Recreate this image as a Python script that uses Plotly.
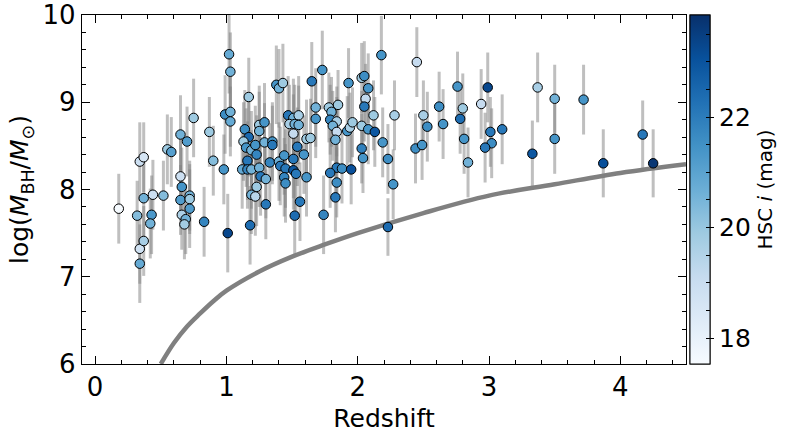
import plotly.graph_objects as go
import plotly.colors as pc

# redshift, log black hole mass, HSC i magnitude, mass error (dex)
redshift = [
    0.18, 0.32, 0.34, 0.34, 0.37, 0.37, 0.34, 0.37, 0.44, 0.43, 0.42, 0.52,
    0.55, 0.58, 0.65, 0.70, 0.75, 0.65, 0.66, 0.65, 0.72, 0.72, 0.72, 0.66,
    0.69, 0.68, 0.83, 0.87, 0.90, 0.98, 1.01, 0.99,
    1.02, 1.03, 1.03, 1.03, 1.17, 1.14, 1.17, 1.13, 1.15, 1.19, 1.22, 1.23,
    1.16, 1.12, 1.16, 1.19, 1.25, 1.26, 1.30, 1.23, 1.19, 1.22, 1.30, 1.18,
    1.25, 1.29, 1.25, 1.29, 1.35, 1.35, 1.33, 1.40, 1.44, 1.41, 1.45, 1.44,
    1.45, 1.51, 1.51, 1.53, 1.54, 1.59, 1.61, 1.56, 1.52, 1.74, 1.38, 1.40,
    1.43, 1.47, 1.51, 1.55, 1.48, 1.52, 1.55, 1.51, 1.61, 1.64, 1.65, 1.73,
    1.68, 1.68,
    1.78, 1.85, 1.80, 1.79, 1.84, 1.81, 1.84, 1.83, 1.92, 1.94, 1.96, 2.03,
    2.08, 2.13, 1.93, 2.03, 2.05, 2.08, 2.06, 2.05, 2.12, 2.18, 2.28, 2.19,
    2.03, 2.04, 2.23, 2.27, 2.23, 1.84, 1.88, 1.95, 1.79, 1.84, 1.83, 2.45,
    2.50, 2.44, 2.49, 2.53,
    2.62, 2.65, 2.76, 2.80, 2.78, 2.81, 2.84, 2.94, 2.99, 3.01, 3.02, 2.97,
    3.10, 3.33, 3.37, 3.50, 3.50, 3.72, 3.87, 4.17, 4.25,
]
log_mbh = [
    7.78, 7.70, 7.15, 7.32, 7.41, 7.90, 8.32, 8.37, 7.94, 7.71, 7.61, 7.93,
    8.46, 8.43, 8.63, 8.55, 8.82, 8.15, 8.03, 7.88, 7.93, 7.89, 7.78, 7.71,
    7.66, 7.60, 7.63, 8.66, 8.33, 8.23, 7.50, 8.86,
    9.55, 9.35, 8.89, 8.78, 9.06, 8.69, 8.60, 8.55, 8.48, 8.45, 8.51, 8.40,
    8.33, 8.23, 8.23, 8.23, 8.25, 8.15, 8.12, 8.03, 7.94, 7.92, 7.83, 7.59,
    8.74, 8.77, 8.67, 8.54, 8.55, 8.51, 8.31, 8.32, 8.39, 8.27, 8.24, 8.14,
    8.07, 8.22, 8.35, 8.18, 8.49, 8.40, 8.14, 7.86, 7.70, 7.71, 9.20, 9.16,
    9.22, 8.85, 8.82, 8.85, 8.75, 8.75, 8.74, 8.64, 8.58, 8.59, 9.24, 9.37,
    8.94, 8.81,
    8.94, 8.97, 8.89, 8.80, 8.78, 8.73, 8.66, 8.57, 8.67, 8.71, 8.77, 8.73,
    8.69, 8.66, 9.22, 9.28, 9.30, 9.16, 9.04, 8.95, 8.85, 9.54, 8.85, 8.54,
    8.47, 8.36, 8.35, 8.06, 7.57, 8.25, 8.24, 8.23, 8.19, 8.08, 7.91, 9.46,
    8.85, 8.47, 8.51, 8.72,
    8.95, 8.75, 9.18, 8.93, 8.81, 8.58, 8.31, 8.98, 9.17, 8.66, 8.53, 8.48,
    8.69, 8.41, 9.17, 9.04, 8.58, 9.03, 8.30, 8.63, 8.30,
]
hsc_i = [
    17.6, 20.3, 20.8, 18.8, 19.7, 20.6, 18.9, 18.6, 18.9, 21.3, 20.6, 20.3,
    19.9, 21.1, 20.6, 21.2, 19.9, 18.9, 21.4, 21.2, 20.6, 19.9, 21.2, 19.6,
    20.6, 19.8, 21.8, 19.9, 20.3, 21.4, 23.3, 21.6,
    20.8, 20.6, 20.6, 20.8, 19.9, 21.6, 22.5, 19.9, 21.4, 20.6, 21.4, 21.8,
    22.1, 20.8, 21.8, 20.6, 20.6, 22.1, 20.6, 19.9, 20.6, 19.4, 22.1, 22.4,
    19.9, 21.4, 20.6, 20.6, 21.4, 22.1, 21.8, 20.6, 21.4, 22.1, 22.1, 21.8,
    21.6, 22.9, 22.1, 22.1, 22.1, 21.4, 21.4, 22.1, 22.4, 21.8, 21.4, 20.6,
    19.9, 22.1, 20.6, 19.7, 19.7, 20.6, 20.6, 19.1, 19.9, 19.9, 22.1, 21.4,
    20.6, 21.4,
    19.9, 19.9, 20.6, 21.8, 19.7, 20.6, 19.1, 20.6, 21.4, 19.7, 19.9, 19.9,
    21.4, 22.9, 21.4, 19.9, 21.6, 21.4, 19.2, 22.1, 19.9, 21.4, 19.7, 21.4,
    21.9, 21.4, 21.6, 21.4, 22.4, 22.1, 21.6, 23.1, 22.1, 21.6, 22.1, 19.1,
    19.7, 21.6, 21.4, 21.6,
    21.6, 21.4, 21.4, 19.9, 22.4, 21.4, 20.6, 19.1, 23.3, 22.1, 21.6, 22.1,
    22.1, 22.9, 19.7, 20.6, 21.4, 21.4, 23.1, 22.1, 23.7,
]
mbh_err = [
    0.40, 0.40, 0.45, 0.40, 0.40, 0.45, 0.45, 0.40, 0.40, 0.45, 0.40, 0.40,
    0.40, 0.40, 0.45, 0.40, 0.45, 0.45, 0.45, 0.40, 0.40, 0.40, 0.45, 0.40,
    0.40, 0.40, 0.40, 0.40, 0.40, 0.40, 0.45, 0.45,
    0.45, 0.45, 0.40, 0.40, 0.45, 0.45, 0.45, 0.45, 0.45, 0.45, 0.45, 0.45,
    0.45, 0.45, 0.45, 0.45, 0.45, 0.45, 0.45, 0.45, 0.45, 0.45, 0.40, 0.45,
    0.45, 0.45, 0.45, 0.45, 0.45, 0.45, 0.45, 0.45, 0.45, 0.45, 0.45, 0.45,
    0.45, 0.45, 0.45, 0.45, 0.45, 0.45, 0.45, 0.45, 0.45, 0.45, 0.45, 0.45,
    0.45, 0.45, 0.45, 0.45, 0.45, 0.45, 0.45, 0.45, 0.45, 0.45, 0.45, 0.45,
    0.45, 0.45,
    0.40, 0.40, 0.40, 0.40, 0.40, 0.40, 0.40, 0.40, 0.40, 0.40, 0.40, 0.40,
    0.40, 0.40, 0.40, 0.40, 0.40, 0.40, 0.40, 0.40, 0.40, 0.45, 0.40, 0.40,
    0.40, 0.40, 0.40, 0.40, 0.33, 0.40, 0.40, 0.40, 0.40, 0.40, 0.40, 0.40,
    0.40, 0.40, 0.40, 0.40,
    0.40, 0.40, 0.40, 0.40, 0.40, 0.40, 0.40, 0.40, 0.40, 0.40, 0.40, 0.40,
    0.40, 0.38, 0.40, 0.39, 0.40, 0.40, 0.39, 0.39, 0.39,
]

# gray limit curve
limit_z = [0.50, 0.60, 0.70, 0.80, 0.90, 1.00, 1.25, 1.50, 1.75, 2.00, 2.50, 3.00, 3.50, 4.00, 4.50]
limit_m = [6.00, 6.24, 6.43, 6.58, 6.72, 6.84, 7.06, 7.23, 7.37, 7.50, 7.73, 7.93, 8.06, 8.19, 8.29]

cbar_major = [18, 20, 22]
cbar_minor = [17.5, 18, 18.5, 19, 19.5, 20, 20.5, 21, 21.5, 22, 22.5, 23, 23.5]
cmin, cmax = 17.53, 23.85

font = 'DejaVu Sans, sans-serif'
blues = pc.sequential.Blues

fig = go.Figure()

fig.add_trace(go.Scatter(
    x=limit_z, y=limit_m,
    mode='lines',
    line=dict(color='#808080', width=4.5, shape='spline', smoothing=1.0),
    hoverinfo='skip',
    showlegend=False,
))

fig.add_trace(go.Scatter(
    x=redshift, y=log_mbh,
    mode='markers',
    marker=dict(size=1, opacity=0),
    error_y=dict(type='data', array=mbh_err, color='rgba(128,128,128,0.5)',
                 thickness=3, width=0),
    hoverinfo='skip',
    showlegend=False,
))

cbar_common = dict(
    x=1.0066, xanchor='left', xpad=0,
    y=0, yanchor='bottom', len=1, ypad=0,
    thickness=20, thicknessmode='pixels',
    outlinecolor='black', outlinewidth=1,
    tickcolor='black',
)

# points with the labelled colorbar (major ticks)
fig.add_trace(go.Scatter(
    x=redshift, y=log_mbh,
    mode='markers',
    marker=dict(
        size=9.5,
        color=hsc_i,
        colorscale=blues,
        cmin=cmin, cmax=cmax,
        line=dict(color='black', width=1),
        colorbar=dict(
            ticks='outside', ticklen=4,
            tickvals=cbar_major,
            tickfont=dict(family=font, size=25, color='black'),
            title=dict(text='HSC <i>i</i> (mag)', side='right',
                       font=dict(family=font, size=20, color='black')),
            **cbar_common,
        ),
    ),
    showlegend=False,
))

# second colorbar on top, only for the small inner ticks
fig.add_trace(go.Scatter(
    x=redshift, y=log_mbh,
    mode='markers',
    marker=dict(
        size=1, opacity=0,
        color=hsc_i, colorscale=blues, cmin=cmin, cmax=cmax,
        colorbar=dict(
            ticks='inside', ticklen=4,
            tickvals=cbar_minor, showticklabels=False,
            **cbar_common,
        ),
    ),
    hoverinfo='skip',
    showlegend=False,
))

axis_common = dict(
    showline=True, linecolor='black', linewidth=1.3, mirror='ticks',
    ticks='inside', ticklen=8, tickwidth=1.2, tickcolor='black',
    showgrid=False, zeroline=False, automargin=False,
    tickfont=dict(family=font, size=26, color='black'),
)

fig.update_xaxes(
    range=[-0.1, 4.5], dtick=1, tick0=0,
    minor=dict(ticks='inside', ticklen=4, dtick=0.2, tick0=0, tickcolor='black', showgrid=False),
    title=dict(text='Redshift', font=dict(family=font, size=25, color='black'), standoff=8),
    **axis_common,
)
fig.update_yaxes(
    range=[6, 10], dtick=1, tick0=6,
    minor=dict(ticks='inside', ticklen=4, dtick=0.2, tick0=6, tickcolor='black', showgrid=False),
    title=dict(text='log(<i>M</i><sub>BH</sub>/<i>M</i><sub>⊙</sub>)',
               font=dict(family=font, size=25, color='black'), standoff=6),
    **axis_common,
)

fig.update_layout(
    width=789, height=435,
    margin=dict(l=82, r=100, t=15, b=71),
    paper_bgcolor='white', plot_bgcolor='white',
    font=dict(family=font, color='black'),
)

# the page body has a default 8px margin; drop it so the figure sits at the corner
fig.write_html("out.html", config={'displayModeBar': False},
               post_script="document.body.style.margin='0';")
